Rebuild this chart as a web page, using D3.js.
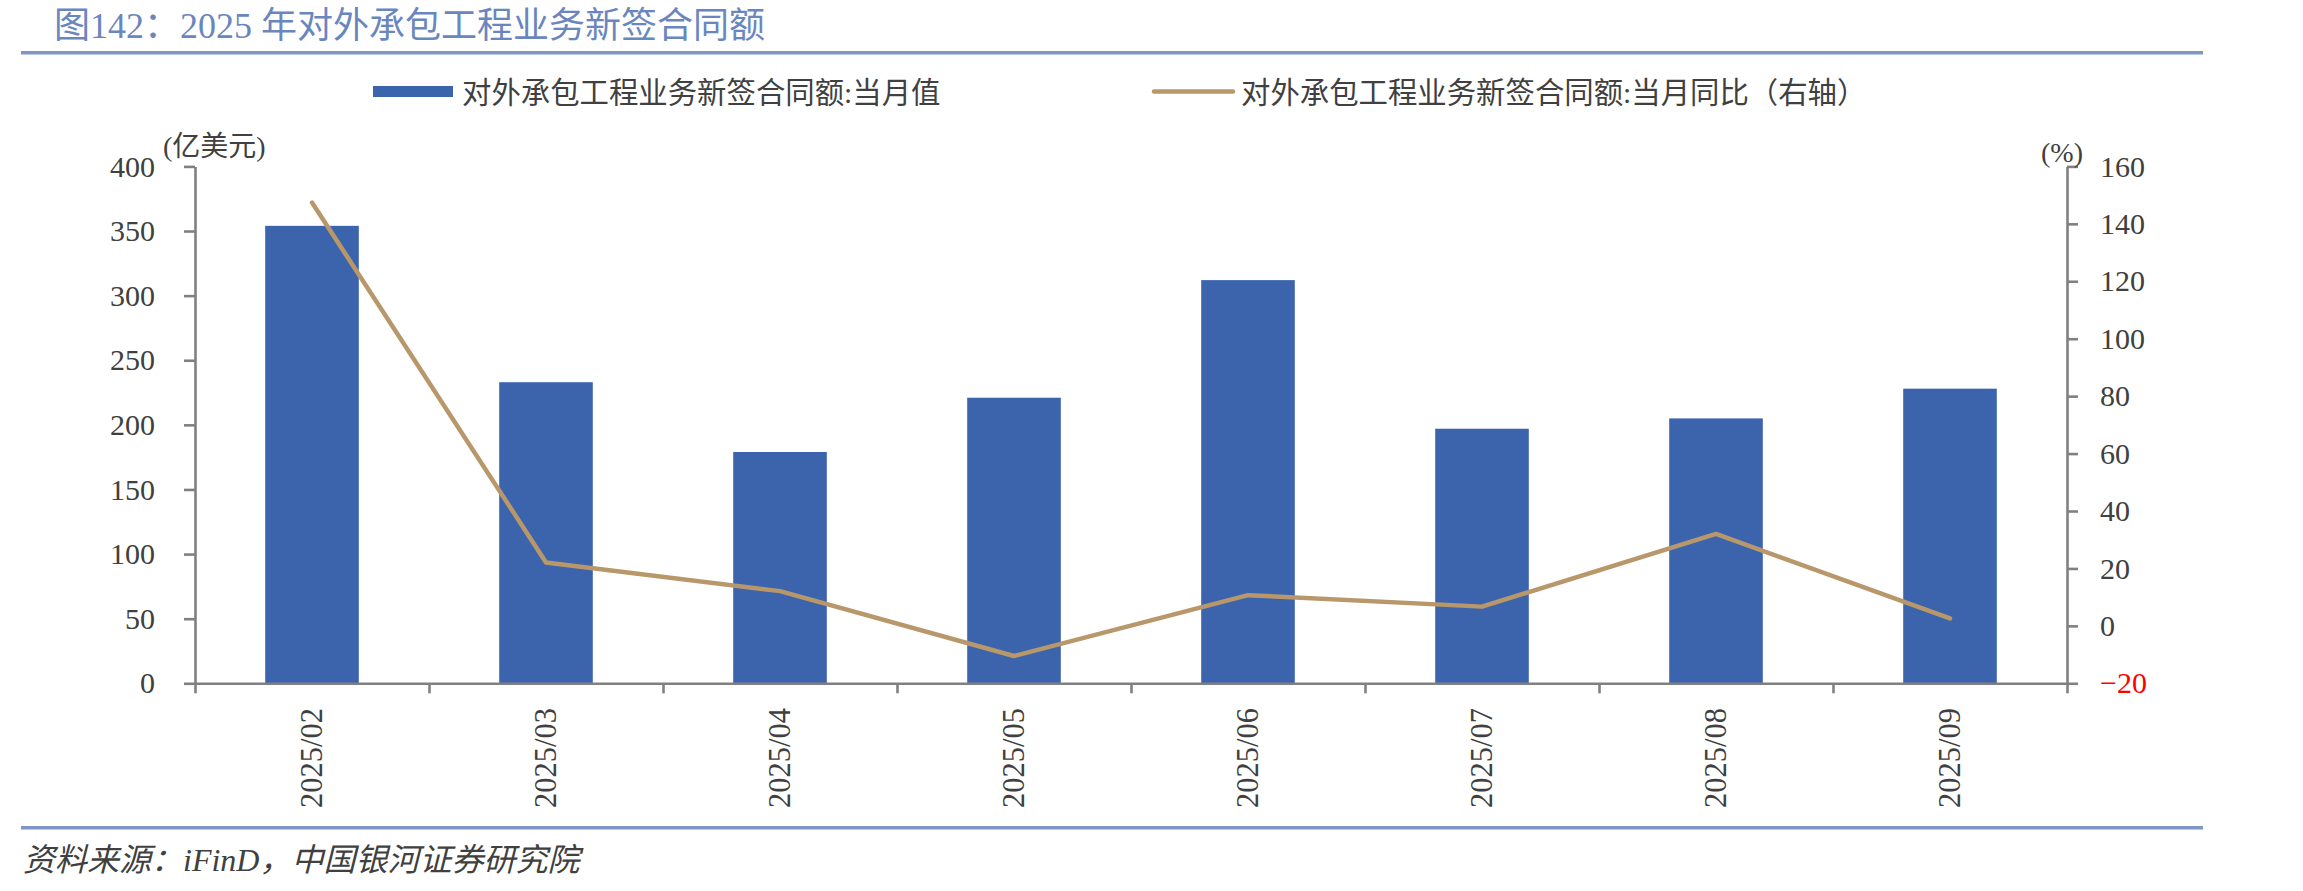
<!DOCTYPE html>
<html lang="zh">
<head>
    <meta charset="UTF-8">
    <title>对外承包工程业务新签合同额</title>
    <script src="https://d3js.org/d3.v7.min.js"></script>
    <style>
        body {
            margin: 0;
            background-color: #ffffff;
        }
        .tick text {
            font-family: 'Liberation Serif', 'Noto Sans CJK SC', serif;
            font-size: 30px;
            fill: #404040;
        }
        .axis path, .axis line {
            stroke: #808080;
            stroke-width: 2.6px;
        }
        .cn {
            font-family: 'Liberation Serif', 'Noto Sans CJK SC', serif;
            fill: #404040;
        }
    </style>
</head>
<body>
    <svg id="chart"></svg>

    <script>
        // Data
        const months = ["2025/02", "2025/03", "2025/04", "2025/05", "2025/06", "2025/07", "2025/08", "2025/09"];
        const monthlyValue = [354, 233, 179, 221, 312, 197, 205, 228];          // 亿美元
        const monthlyYoY = [147.4, 22.1, 12.1, -10.5, 10.7, 6.7, 32.0, 2.6];   // %
        const leftTicks = [0, 50, 100, 150, 200, 250, 300, 350, 400];
        const rightTicks = [-20, 0, 20, 40, 60, 80, 100, 120, 140, 160];
        const seriesNames = ["对外承包工程业务新签合同额:当月值", "对外承包工程业务新签合同额:当月同比（右轴）"];

        const W = 2303, H = 891;
        const plot = { left: 195, right: 2067, top: 166.4, bottom: 683.3 };
        const barColor = "#3b64ad";
        const lineColor = "#b8976a";
        const ruleColor = "#7f96c6";

        const svg = d3.select("#chart")
            .attr("width", W)
            .attr("height", H);

        // Title and rules
        svg.append("text")
            .attr("x", 54)
            .attr("y", 26)
            .attr("dominant-baseline", "central")
            .style("font-family", "'Liberation Serif', 'Noto Sans CJK SC', serif")
            .style("font-size", "36px")
            .style("fill", "#6a86be")
            .text("图142：2025 年对外承包工程业务新签合同额");

        svg.append("line")
            .attr("x1", 21).attr("x2", 2203)
            .attr("y1", 52.7).attr("y2", 52.7)
            .attr("stroke", ruleColor)
            .attr("stroke-width", 3.5);

        svg.append("line")
            .attr("x1", 21).attr("x2", 2203)
            .attr("y1", 827.7).attr("y2", 827.7)
            .attr("stroke", ruleColor)
            .attr("stroke-width", 3.5);

        // Scales
        const x = d3.scaleBand()
            .domain(months)
            .range([plot.left, plot.right])
            .paddingInner(0.6)
            .paddingOuter(0.3);

        const xEdge = d3.scaleLinear()
            .domain([0, months.length])
            .range([plot.left, plot.right]);

        const yLeft = d3.scaleLinear()
            .domain([0, 400])
            .range([plot.bottom, plot.top]);

        const yRight = d3.scaleLinear()
            .domain([-20, 160])
            .range([plot.bottom, plot.top]);

        // Bars
        svg.append("g")
            .selectAll("rect")
            .data(months)
            .enter()
            .append("rect")
            .attr("x", d => x(d))
            .attr("y", (d, i) => yLeft(monthlyValue[i]))
            .attr("width", x.bandwidth())
            .attr("height", (d, i) => yLeft(0) - yLeft(monthlyValue[i]))
            .attr("fill", barColor);

        // Axes
        svg.append("g")
            .attr("class", "axis")
            .attr("transform", `translate(${plot.left},0)`)
            .call(d3.axisLeft(yLeft).tickValues(leftTicks).tickSize(11).tickSizeOuter(0).tickPadding(29));

        const rightAxis = svg.append("g")
            .attr("class", "axis")
            .attr("transform", `translate(${plot.right},0)`)
            .call(d3.axisRight(yRight).tickValues(rightTicks).tickSize(11).tickSizeOuter(0).tickPadding(22));

        rightAxis.selectAll(".tick text")
            .style("fill", d => d < 0 ? "#ff0000" : "#404040");

        svg.append("g")
            .attr("class", "axis")
            .attr("transform", `translate(0,${plot.bottom})`)
            .call(d3.axisBottom(xEdge).tickValues(d3.range(months.length + 1)).tickFormat("").tickSize(10).tickSizeOuter(0));

        // Category labels, rotated
        svg.append("g")
            .selectAll("text")
            .data(months)
            .enter()
            .append("text")
            .attr("class", "cn")
            .attr("transform", d => `translate(${x(d) + x.bandwidth() / 2},708) rotate(-90)`)
            .attr("text-anchor", "end")
            .attr("dy", "0.33em")
            .style("font-size", "30.5px")
            .text(d => d);

        // YoY line
        const line = d3.line()
            .x((d, i) => x(months[i]) + x.bandwidth() / 2)
            .y(d => yRight(d));

        svg.append("path")
            .datum(monthlyYoY)
            .attr("d", line)
            .attr("fill", "none")
            .attr("stroke", lineColor)
            .attr("stroke-width", 4.5)
            .attr("stroke-linecap", "round")
            .attr("stroke-linejoin", "round");

        // Axis unit labels
        svg.append("text")
            .attr("class", "cn")
            .attr("x", 163)
            .attr("y", 146)
            .attr("dominant-baseline", "central")
            .style("font-size", "28px")
            .text("(亿美元)");

        svg.append("text")
            .attr("class", "cn")
            .attr("x", 2062)
            .attr("y", 152)
            .attr("text-anchor", "middle")
            .attr("dominant-baseline", "central")
            .style("font-size", "28px")
            .text("(%)");

        // Legend
        const legend = svg.append("g");

        legend.append("rect")
            .attr("x", 373).attr("y", 86)
            .attr("width", 80).attr("height", 11)
            .attr("fill", barColor);

        legend.append("text")
            .attr("class", "cn")
            .attr("x", 462).attr("y", 93)
            .attr("dominant-baseline", "central")
            .style("font-size", "29.4px")
            .text(seriesNames[0]);

        legend.append("line")
            .attr("x1", 1154).attr("x2", 1233)
            .attr("y1", 91.5).attr("y2", 91.5)
            .attr("stroke", lineColor)
            .attr("stroke-width", 4.5)
            .attr("stroke-linecap", "round");

        legend.append("text")
            .attr("class", "cn")
            .attr("x", 1241).attr("y", 93)
            .attr("dominant-baseline", "central")
            .style("font-size", "29.4px")
            .text(seriesNames[1]);

        // Source note
        svg.append("text")
            .attr("class", "cn")
            .attr("x", 23)
            .attr("y", 860)
            .attr("dominant-baseline", "central")
            .style("font-size", "32px")
            .style("font-style", "italic")
            .text("资料来源：iFinD，中国银河证券研究院");
    </script>
</body>
</html>
